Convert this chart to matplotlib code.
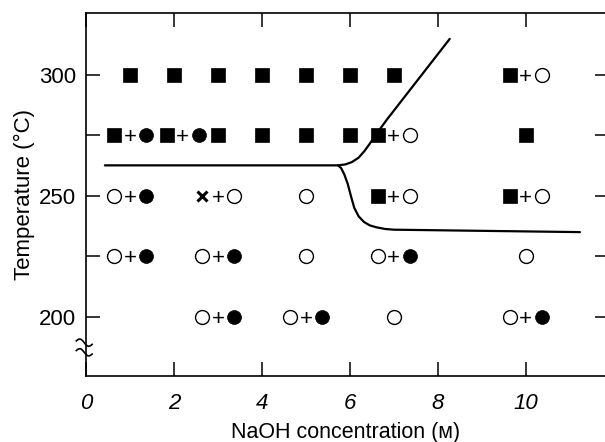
import numpy as np
import matplotlib
matplotlib.use('Agg')
import matplotlib.pyplot as plt

plt.rcParams['font.family'] = ['Liberation Sans', 'DejaVu Sans']

# Observations: NaOH concentration (M), temperature (°C), phases found
naoh = [1, 2, 3, 4, 5, 6, 7, 10,
        1, 2.2, 3, 4, 5, 6, 7, 10,
        1, 3, 5, 7, 10,
        1, 3, 5, 7, 10,
        3, 5, 7, 10]
temp = [300] * 8 + [275] * 8 + [250] * 5 + [225] * 5 + [200] * 4
phases = ['S', 'S', 'S', 'S', 'S', 'S', 'S', 'S+O',
          'S+F', 'S+F', 'S', 'S', 'S', 'S', 'S+O', 'S',
          'O+F', 'X+O', 'O', 'S+O', 'S+O',
          'O+F', 'O+F', 'O', 'O+F', 'O',
          'O+F', 'O+F', 'O', 'O+F']

# Phase boundaries
upper_x = [0.43, 5.73, 5.9, 6.05, 6.2, 6.33, 6.45, 6.6, 6.84, 8.27]
upper_t = [262.6, 262.6, 263.0, 264.0, 265.8, 268.5, 271.5, 275.5, 281.5, 314.9]
lower_x = [5.73, 5.8, 5.87, 5.95, 6.03, 6.1, 6.2, 6.32, 6.45, 6.6, 6.8, 7.0, 11.23]
lower_t = [262.6, 261.5, 259.0, 255.0, 249.5, 245.0, 241.5, 239.2, 237.8, 237.0, 236.3, 236.0, 235.0]

xticks = [0, 2, 4, 6, 8, 10]
yticks = [200, 225, 250, 275, 300]
ylabels = ['200', '', '250', '', '300']

fig = plt.figure(figsize=(6.05, 4.42), dpi=100)
ax = fig.add_axes([0.1421, 0.1493, 0.8579, 0.8202])
ax.set_xlim(0, 11.8)
ax.set_ylim(175.5, 325.4)

styles = {
    'S': dict(marker='s', ms=9.5, mfc='black', mec='black', mew=0.5),
    'F': dict(marker='o', ms=10, mfc='black', mec='black', mew=0.5),
    'O': dict(marker='o', ms=10, mfc='white', mec='black', mew=1.0),
    'X': dict(marker='x', ms=7, mec='black', mew=2.2),
}
pos = {k: ([], []) for k in styles}
off = 0.36
for c, t, p in zip(naoh, temp, phases):
    parts = p.split('+')
    if len(parts) == 1:
        pos[parts[0]][0].append(c)
        pos[parts[0]][1].append(t)
    else:
        pos[parts[0]][0].append(c - off)
        pos[parts[0]][1].append(t)
        pos[parts[1]][0].append(c + off)
        pos[parts[1]][1].append(t)
        ax.text(c, t, '+', ha='center', va='center_baseline', fontsize=16,
                fontweight='light')
for k, (xs, ts) in pos.items():
    ax.plot(xs, ts, ls='none', zorder=3, **styles[k])

ax.plot(upper_x, upper_t, color='black', lw=1.6, solid_capstyle='round')
ax.plot(lower_x, lower_t, color='black', lw=1.6, solid_capstyle='round')

# axis break marks on left spine
for t0 in (189.3, 185.3):
    xs = np.linspace(-0.22, 0.14, 40)
    ys = t0 + 1.1 * np.sin((xs + 0.22) / 0.36 * 2 * np.pi) - (xs + 0.04) * 4
    ax.plot(xs, ys, color='black', lw=1.2, clip_on=False)

for s in ['left', 'bottom', 'top']:
    ax.spines[s].set_linewidth(1.2)
ax.spines['right'].set_visible(False)

ax.set_xticks(xticks)
ax.set_xticklabels([str(v) for v in xticks], fontsize=16, fontstyle='italic')
ax.set_yticks(yticks)
ax.set_yticklabels(ylabels, fontsize=16)
ax.tick_params(axis='x', which='both', direction='in', length=10, width=1.1,
               top=True, pad=12)
ax.tick_params(axis='y', which='both', direction='in', length=10, width=1.1,
               right=True, pad=7)
for t in ax.yaxis.get_major_ticks():
    t.tick2line.set_markersize(7)

ax.set_xlabel('NaOH concentration (ᴍ)', fontsize=15.5, labelpad=6)
ax.set_ylabel('Temperature (°C)', fontsize=16, labelpad=3)

fig.savefig('out.png', dpi=100)
